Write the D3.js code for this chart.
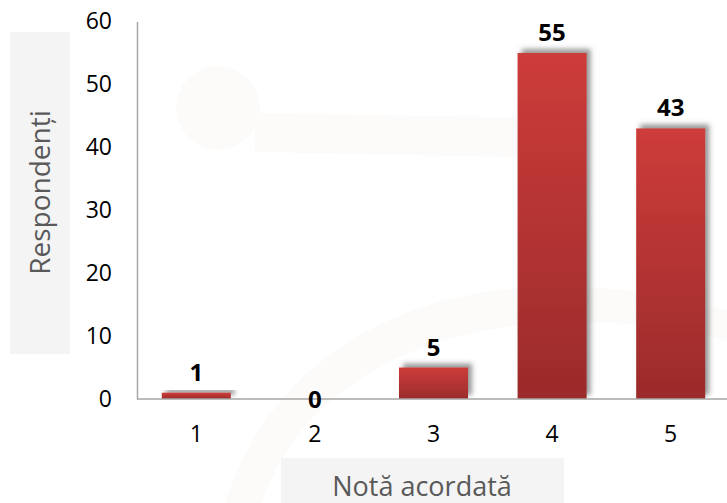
<!DOCTYPE html>
<html><head><meta charset="utf-8">
<script src="https://cdn.jsdelivr.net/npm/d3@7"></script>
<style>html,body{margin:0;padding:0;background:#fff;}svg{display:block;}</style>
</head><body>
<svg id="c" width="727" height="503"></svg>
<script>
const categories = ["1", "2", "3", "4", "5"];
const values = [1, 0, 5, 55, 43];
const yTicks = [0, 10, 20, 30, 40, 50, 60];
const yTitle = "Respondenți";
const xTitle = "Notă acordată";

const svg = d3.select("#c");
const W = 727, H = 503;
const font = "'Open Sans', sans-serif";

// faint watermark
const wm = svg.append("g").attr("fill", "#fcfbfa");
wm.append("circle").attr("cx", 218).attr("cy", 108).attr("r", 42);
wm.append("path").attr("d", "M255,113 L560,118 L560,158 L255,152 Z");
wm.append("path").attr("d", "M225,503 C280,330 470,240 727,310 L727,340 C490,285 310,360 262,503 Z");

// title boxes
svg.append("rect").attr("x", 10).attr("y", 32).attr("width", 60).attr("height", 322).attr("fill", "#f4f4f4");
svg.append("rect").attr("x", 281).attr("y", 458).attr("width", 283).attr("height", 50).attr("fill", "#f4f4f4");

const defs = svg.append("defs");
const grad = defs.append("linearGradient").attr("id", "barGrad").attr("x1", 0).attr("y1", 0).attr("x2", 0).attr("y2", 1);
grad.append("stop").attr("offset", "0%").attr("stop-color", "#cd3c3a");
grad.append("stop").attr("offset", "100%").attr("stop-color", "#9b2b2b");
const f = defs.append("filter").attr("id", "sh").attr("x", "-30%").attr("y", "-30%").attr("width", "160%").attr("height", "160%");
f.append("feDropShadow").attr("dx", 4).attr("dy", -4).attr("stdDeviation", 2.5).attr("flood-color", "#555").attr("flood-opacity", 0.6);

const x = d3.scaleBand().domain(categories).range([137, 730]).paddingInner(0.418).paddingOuter(0.209);
const y = d3.scaleLinear().domain([0, 60]).range([399, 21.5]);

// bars
svg.append("g").selectAll("rect").data(values).join("rect")
  .attr("x", (d, i) => x(categories[i]))
  .attr("y", d => y(d))
  .attr("width", x.bandwidth())
  .attr("height", d => y(0) - y(d))
  .attr("fill", "url(#barGrad)")
  .attr("filter", "url(#sh)");

// axes
const yAxis = svg.append("g").attr("transform", "translate(137,0)")
  .call(d3.axisLeft(y).tickValues(yTicks).tickSize(0).tickPadding(25));
yAxis.select(".domain").attr("stroke", "#a6a6a6").attr("stroke-width", 1.5);
yAxis.selectAll("text").attr("font-family", font).attr("font-size", 23).attr("fill", "#000");

const xAxis = svg.append("g").attr("transform", "translate(0,399)")
  .call(d3.axisBottom(x).tickSize(0).tickPadding(27));
xAxis.select(".domain").attr("d", "M137,0H727").attr("stroke", "#a6a6a6").attr("stroke-width", 1.5);
xAxis.selectAll("text").attr("font-family", font).attr("font-size", 23).attr("fill", "#000");

// data labels
svg.append("g").selectAll("text").data(values).join("text")
  .attr("x", (d, i) => x(categories[i]) + x.bandwidth() / 2)
  .attr("y", d => d > 0 ? y(d) - 12 : y(d) + 9)
  .attr("text-anchor", "middle")
  .attr("font-family", font).attr("font-weight", "bold").attr("font-size", 24)
  .attr("fill", "#000")
  .text(d => d);

// titles
svg.append("text").attr("transform", "translate(50,192.5) rotate(-90)")
  .attr("text-anchor", "middle").attr("font-family", font).attr("font-size", 28).attr("fill", "#595959")
  .text(yTitle);
svg.append("text").attr("x", 422).attr("y", 496)
  .attr("text-anchor", "middle").attr("font-family", font).attr("font-size", 27).attr("fill", "#595959")
  .text(xTitle);
</script>
</body></html>
